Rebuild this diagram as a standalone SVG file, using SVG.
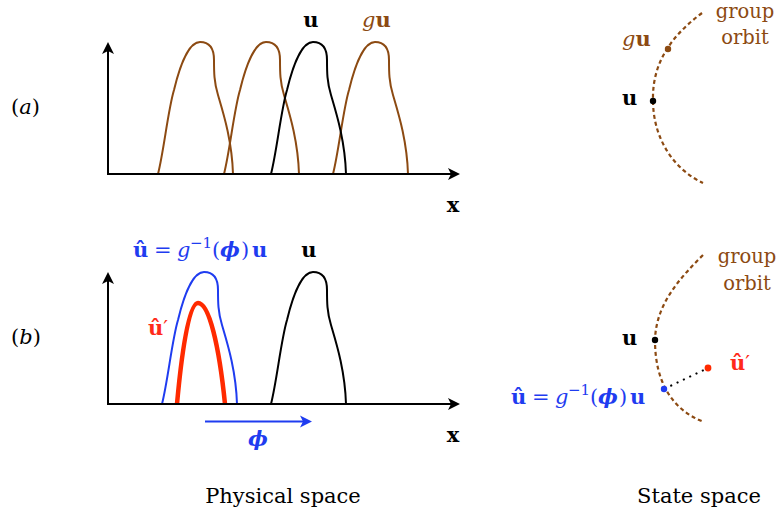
<svg xmlns="http://www.w3.org/2000/svg" width="778" height="512" viewBox="0 0 778 512">
<style>
text{font-family:"DejaVu Serif","Liberation Serif",serif;font-size:21px}
.b{font-weight:bold}
.i{font-style:italic}
.k{fill:#000}
.br{fill:#8c4a12}
.bl{fill:#1f3cf0}
.rd{fill:#ff2a1a}
.go{font-size:19.5px}
.ax{stroke:#000;stroke-width:2;fill:none}
.orbit{fill:none;stroke:#8c4a12;stroke-width:2.2;stroke-dasharray:4 3}
</style>
<defs>
<marker id="ah" viewBox="-5 -7 14 14" refX="0" refY="0" markerWidth="14" markerHeight="14" markerUnits="userSpaceOnUse" orient="auto">
<path d="M8,0 L-4,-6 L-1,0 L-4,6 Z" fill="#000"/>
</marker>
<marker id="ahb" viewBox="-5 -7 14 14" refX="0" refY="0" markerWidth="14" markerHeight="14" markerUnits="userSpaceOnUse" orient="auto">
<path d="M8,0 L-4,-6 L-1,0 L-4,6 Z" fill="#1f3cf0"/>
</marker>
<path id="pulse" fill="none" d="M0,0 C6,-24 10,-64 16,-84 C22,-109 31,-132 42,-132 C51,-132 56,-127 56,-114 C56,-102 56,-92 60,-79 C65,-62 74,-34 75,0"/>
</defs>

<g id="labels-rows">
<text class="k" x="11" y="114">(<tspan class="i">a</tspan>)</text>
<text class="k" x="11" y="344">(<tspan class="i">b</tspan>)</text>
</g>

<g id="physical-a">
<use href="#pulse" x="158" y="174" stroke="#8c4a12" stroke-width="2"/>
<use href="#pulse" x="224" y="174" stroke="#8c4a12" stroke-width="2"/>
<use href="#pulse" x="333" y="174" stroke="#8c4a12" stroke-width="2"/>
<use href="#pulse" x="271" y="174" stroke="#000" stroke-width="2"/>
<text class="k b" x="311" y="27" text-anchor="middle">u</text>
<text class="br" x="362" y="27"><tspan class="i">g</tspan><tspan class="b">u</tspan></text>
<text class="k b" x="453" y="212" text-anchor="middle">x</text>
</g>

<g id="physical-b">
<use href="#pulse" x="162" y="404" stroke="#1f3cf0" stroke-width="2"/>
<path d="M177,404 C181,360 188,303 198,303 C209,303 219,345 225,404" fill="none" stroke="#ff2a00" stroke-width="4.5"/>
<use href="#pulse" x="271" y="404" stroke="#000" stroke-width="2"/>
<text class="bl"><tspan x="133" y="257" class="b">û</tspan><tspan x="154" y="257">=</tspan><tspan x="177" y="257" class="i">g</tspan><tspan x="190" y="248" font-size="15">−1</tspan><tspan x="212" y="257">(</tspan><tspan x="220" y="257" class="b i">ϕ</tspan><tspan x="241" y="257">)</tspan><tspan x="252" y="257" class="b">u</tspan></text>
<text class="k b" x="309" y="257" text-anchor="middle">u</text>
<text class="rd" x="148" y="335"><tspan class="b">û</tspan>′</text>
<text class="bl b i" x="258" y="446" text-anchor="middle">ϕ</text>
<text class="k b" x="453" y="442" text-anchor="middle">x</text>
</g>

<g id="connectors">
<line class="ax" x1="108" y1="175" x2="108" y2="50" marker-end="url(#ah)"/>
<line class="ax" x1="107" y1="174" x2="452" y2="174" marker-end="url(#ah)"/>
<line class="ax" x1="108" y1="405" x2="108" y2="280" marker-end="url(#ah)"/>
<line class="ax" x1="107" y1="404" x2="452" y2="404" marker-end="url(#ah)"/>
<line x1="205" y1="421.5" x2="304" y2="421.5" stroke="#1f3cf0" stroke-width="2" marker-end="url(#ahb)"/>
<line x1="664" y1="389" x2="708" y2="368" stroke="#000" stroke-width="2" stroke-dasharray="2 5"/>
</g>

<g id="state-a">
<path class="orbit" d="M702,13 C675,33 652,60 653,100 C653,140 675,170 703,183"/>
<circle cx="668" cy="49" r="3.2" fill="#8c4a12"/>
<circle cx="653" cy="101" r="3.2" fill="#000"/>
<text class="br" x="622" y="46"><tspan class="i">g</tspan><tspan class="b">u</tspan></text>
<text class="k b" x="622" y="105">u</text>
<text class="br go" x="745" y="18" text-anchor="middle">group</text>
<text class="br go" x="745" y="44" text-anchor="middle">orbit</text>
</g>

<g id="state-b">
<path class="orbit" d="M703,255 C678,280 656,305 655,340 C655,382 672,410 704,422"/>
<circle cx="655" cy="340" r="3.2" fill="#000"/>
<circle cx="664" cy="389" r="3.2" fill="#1f3cf0"/>
<circle cx="708" cy="368" r="3.4" fill="#ff2a00"/>
<text class="k b" x="622" y="345">u</text>
<text class="rd" x="730" y="370"><tspan class="b">û</tspan>′</text>
<text class="bl"><tspan x="511" y="404" class="b">û</tspan><tspan x="532" y="404">=</tspan><tspan x="555" y="404" class="i">g</tspan><tspan x="568" y="395" font-size="15">−1</tspan><tspan x="590" y="404">(</tspan><tspan x="598" y="404" class="b i">ϕ</tspan><tspan x="619" y="404">)</tspan><tspan x="630" y="404" class="b">u</tspan></text>
<text class="br go" x="747" y="263" text-anchor="middle">group</text>
<text class="br go" x="747" y="290" text-anchor="middle">orbit</text>
</g>

<g id="captions">
<text class="k" x="283" y="503" text-anchor="middle">Physical space</text>
<text class="k" x="699" y="503" text-anchor="middle">State space</text>
</g>
</svg>
